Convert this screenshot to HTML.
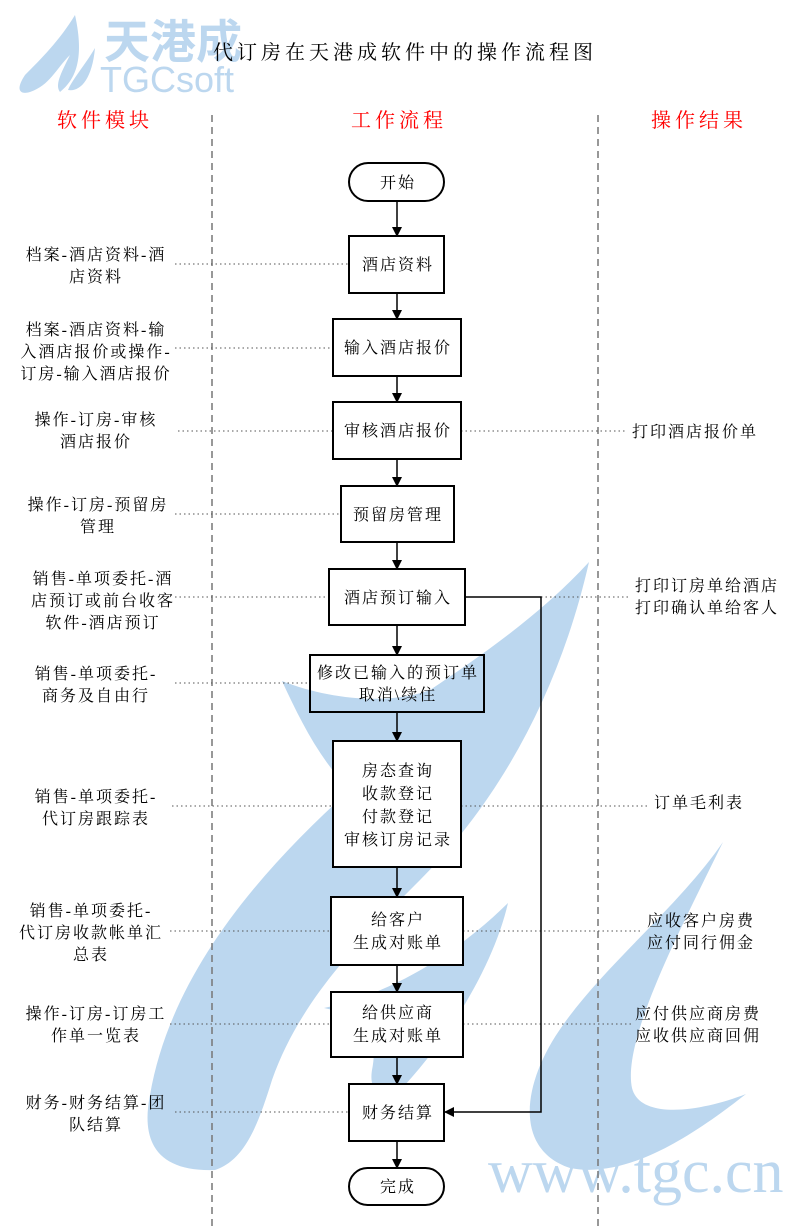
<!DOCTYPE html>
<html><head><meta charset="utf-8"><style>
html,body{margin:0;padding:0;background:#fff}
svg{display:block}
text{font-family:"Liberation Serif","Noto Serif CJK SC",serif;font-size:16px;fill:#000;letter-spacing:2px}
.h{fill:#f00;font-size:20px;letter-spacing:4px}
.w{fill:#bcd7ef}
.b{fill:#fff;stroke:#000;stroke-width:2}
.d{stroke:#555;stroke-width:1;stroke-dasharray:1.5 3}
.l{stroke:#000;stroke-width:1.5;fill:none}
</style></head><body>
<svg width="794" height="1229" viewBox="0 0 794 1229">
<defs><marker id="a" markerWidth="10" markerHeight="10" refX="9" refY="5" orient="auto" markerUnits="userSpaceOnUse"><path d="M0,0 L10,5 L0,10 Z" fill="#000"/></marker></defs>
<!-- watermark -->
<path class="w" d="M589,562 C560,690 500,800 420,880 C360,940 300,1000 272,1080 C258,1125 245,1160 215,1170 C160,1172 140,1145 150,1095 C170,980 250,880 350,790 C320,760 300,720 282,681 C330,700 390,705 430,690 C490,650 545,610 589,562 Z"/>
<path class="w" d="M508,903 C495,960 455,1030 405,1085 C385,1100 368,1095 372,1070 C378,1040 370,1018 324,1008 C385,995 450,960 508,903 Z"/>
<path class="w" d="M723,842 C680,905 605,965 563,1025 C520,1085 515,1150 570,1168 C630,1180 700,1130 746,1094 C700,1112 640,1120 632,1088 C622,1040 680,930 723,842 Z"/>
<text x="488" y="1192" style="font-size:62px;fill:#bcd7ef;font-family:'Liberation Serif',serif;letter-spacing:0">www.tgc.cn</text>
<!-- logo -->
<path class="w" d="M75,15 C60,40 40,60 25,75 C15,90 20,95 30,92 C50,85 55,70 70,55 C60,75 55,85 60,92 C75,80 85,60 75,15 Z"/>
<path class="w" d="M95,48 C85,65 72,80 68,90 C80,92 92,80 95,48 Z"/>
<text x="104" y="58" style="font-size:46px;fill:#bcd7ef;font-family:'Liberation Sans','Noto Sans CJK SC',sans-serif;font-weight:bold;letter-spacing:0">天港成</text>
<text x="100" y="92" style="font-size:36px;fill:#bcd7ef;font-family:'Liberation Sans',sans-serif;letter-spacing:0">TGCsoft</text>
<!-- title -->
<text x="405" y="59" text-anchor="middle" style="font-size:20px;letter-spacing:4px">代订房在天港成软件中的操作流程图</text>
<text class="h" x="105" y="127" text-anchor="middle">软件模块</text>
<text class="h" x="399" y="127" text-anchor="middle">工作流程</text>
<text class="h" x="699" y="127" text-anchor="middle">操作结果</text>
<line x1="212" y1="115" x2="212" y2="1229" stroke="#777" stroke-width="1.5" stroke-dasharray="7 5"/>
<line x1="598" y1="115" x2="598" y2="1229" stroke="#777" stroke-width="1.5" stroke-dasharray="7 5"/>
<!-- dotted connectors -->
<line class="d" x1="175" y1="264" x2="349" y2="264"/>
<line class="d" x1="175" y1="348" x2="333" y2="348"/>
<line class="d" x1="178" y1="431" x2="333" y2="431"/><line class="d" x1="461" y1="431" x2="625" y2="431"/>
<line class="d" x1="175" y1="514" x2="341" y2="514"/>
<line class="d" x1="175" y1="597" x2="329" y2="597"/><line class="d" x1="541" y1="597" x2="630" y2="597"/>
<line class="d" x1="175" y1="683" x2="310" y2="683"/>
<line class="d" x1="172" y1="806" x2="333" y2="806"/><line class="d" x1="461" y1="806" x2="650" y2="806"/>
<line class="d" x1="170" y1="931" x2="331" y2="931"/><line class="d" x1="463" y1="931" x2="640" y2="931"/>
<line class="d" x1="170" y1="1024" x2="331" y2="1024"/><line class="d" x1="463" y1="1024" x2="632" y2="1024"/>
<line class="d" x1="175" y1="1112" x2="349" y2="1112"/>
<!-- arrows -->
<line class="l" x1="397" y1="201" x2="397" y2="236" marker-end="url(#a)"/>
<line class="l" x1="397" y1="293" x2="397" y2="319" marker-end="url(#a)"/>
<line class="l" x1="397" y1="376" x2="397" y2="402" marker-end="url(#a)"/>
<line class="l" x1="397" y1="459" x2="397" y2="486" marker-end="url(#a)"/>
<line class="l" x1="397" y1="542" x2="397" y2="569" marker-end="url(#a)"/>
<line class="l" x1="397" y1="625" x2="397" y2="655" marker-end="url(#a)"/>
<line class="l" x1="397" y1="712" x2="397" y2="741" marker-end="url(#a)"/>
<line class="l" x1="397" y1="867" x2="397" y2="897" marker-end="url(#a)"/>
<line class="l" x1="397" y1="965" x2="397" y2="992" marker-end="url(#a)"/>
<line class="l" x1="397" y1="1057" x2="397" y2="1084" marker-end="url(#a)"/>
<line class="l" x1="397" y1="1141" x2="397" y2="1168" marker-end="url(#a)"/>
<polyline class="l" points="465,597 541,597 541,1112 445,1112" marker-end="url(#a)"/>
<!-- boxes -->
<rect class="b" x="349" y="163" width="95" height="38" rx="19"/>
<rect class="b" x="349" y="236" width="95" height="57"/>
<rect class="b" x="333" y="319" width="128" height="57"/>
<rect class="b" x="333" y="402" width="128" height="57"/>
<rect class="b" x="341" y="486" width="113" height="56"/>
<rect class="b" x="329" y="569" width="136" height="56"/>
<rect class="b" x="310" y="655" width="174" height="57" style="fill:none"/>
<rect class="b" x="333" y="741" width="128" height="126"/>
<rect class="b" x="331" y="897" width="132" height="68"/>
<rect class="b" x="331" y="992" width="132" height="65"/>
<rect class="b" x="349" y="1084" width="95" height="57"/>
<rect class="b" x="349" y="1168" width="95" height="37" rx="18.5"/>
<g text-anchor="middle">
<text x="398" y="188">开始</text>
<text x="398" y="270">酒店资料</text>
<text x="398" y="353">输入酒店报价</text>
<text x="398" y="436">审核酒店报价</text>
<text x="398" y="520">预留房管理</text>
<text x="398" y="603">酒店预订输入</text>
<text x="398" y="678">修改已输入的预订单</text><text x="398" y="700">取消\续住</text>
<text x="398" y="776">房态查询</text><text x="398" y="799">收款登记</text><text x="398" y="822">付款登记</text><text x="398" y="845">审核订房记录</text>
<text x="398" y="925">给客户</text><text x="398" y="948">生成对账单</text>
<text x="398" y="1018">给供应商</text><text x="398" y="1041">生成对账单</text>
<text x="398" y="1118">财务结算</text>
<text x="398" y="1192">完成</text>
<!-- left -->
<text x="96" y="260">档案-酒店资料-酒</text><text x="96" y="282">店资料</text>
<text x="96" y="335">档案-酒店资料-输</text><text x="96" y="357">入酒店报价或操作-</text><text x="96" y="379">订房-输入酒店报价</text>
<text x="96" y="425">操作-订房-审核</text><text x="96" y="447">酒店报价</text>
<text x="98" y="510">操作-订房-预留房</text><text x="98" y="532">管理</text>
<text x="103" y="584">销售-单项委托-酒</text><text x="103" y="606">店预订或前台收客</text><text x="103" y="628">软件-酒店预订</text>
<text x="96" y="679">销售-单项委托-</text><text x="96" y="701">商务及自由行</text>
<text x="96" y="802">销售-单项委托-</text><text x="96" y="824">代订房跟踪表</text>
<text x="91" y="916">销售-单项委托-</text><text x="91" y="938">代订房收款帐单汇</text><text x="91" y="960">总表</text>
<text x="96" y="1019">操作-订房-订房工</text><text x="96" y="1041">作单一览表</text>
<text x="96" y="1108">财务-财务结算-团</text><text x="96" y="1130">队结算</text>
<!-- right -->
<text x="695" y="437">打印酒店报价单</text>
<text x="707" y="591">打印订房单给酒店</text><text x="707" y="613">打印确认单给客人</text>
<text x="699" y="808">订单毛利表</text>
<text x="701" y="926">应收客户房费</text><text x="701" y="948">应付同行佣金</text>
<text x="698" y="1019">应付供应商房费</text><text x="698" y="1041">应收供应商回佣</text>
</g>
</svg>
</body></html>
